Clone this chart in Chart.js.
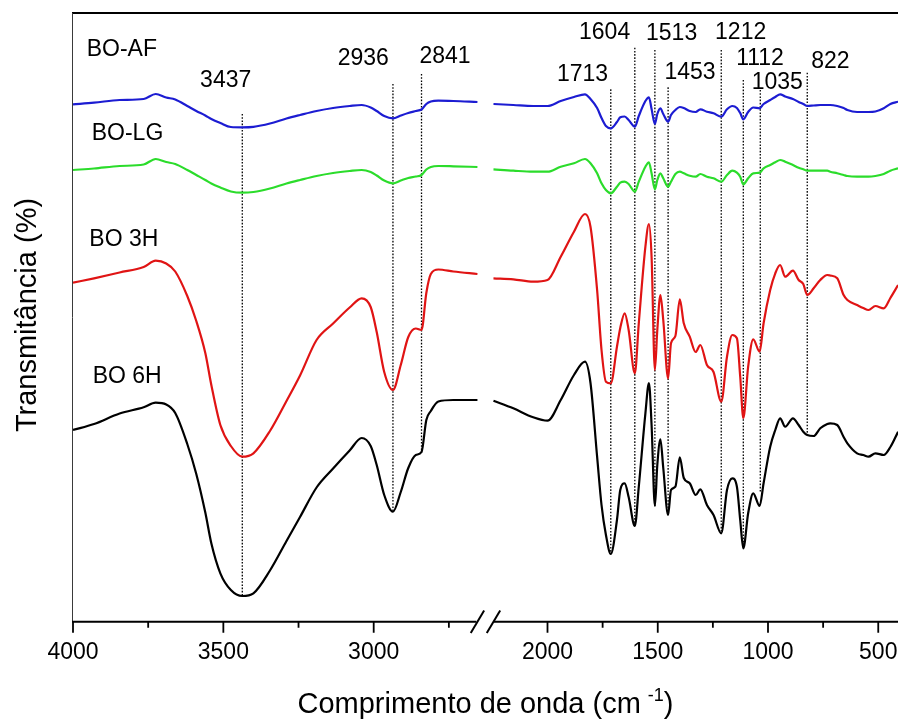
<!DOCTYPE html>
<html>
<head>
<meta charset="utf-8">
<script src="https://cdn.jsdelivr.net/npm/chart.js@4.4.1/dist/chart.umd.min.js"></script>
<style>
  html, body { margin: 0; padding: 0; background: #fff; }
  canvas { display: block; }
</style>
</head>
<body>
<canvas id="ftir" width="898" height="720"></canvas>
<script>
// Wavenumbers (cm-1) of the high-frequency window (4000 → ~2650)
const wnHigh = [4000, 3930, 3845, 3765, 3725, 3690, 3660, 3620, 3590, 3560, 3540, 3510, 3475, 3437, 3400, 3345, 3290, 3245, 3190, 3135, 3080, 3040, 3010, 2990, 2965, 2936, 2910, 2885, 2860, 2841, 2825, 2810, 2785, 2735, 2655];
// Wavenumbers (cm-1) of the fingerprint window (~2250 → 410)
const wnLow = [2245, 2155, 2065, 2000, 1940, 1880, 1830, 1805, 1775, 1755, 1735, 1713, 1685, 1670, 1650, 1632, 1604, 1586, 1556, 1540, 1528, 1513, 1502, 1488, 1475, 1453, 1440, 1420, 1400, 1382, 1355, 1328, 1307, 1277, 1247, 1212, 1186, 1162, 1141, 1126, 1112, 1090, 1067, 1038, 1020, 990, 967, 945, 922, 887, 861, 840, 822, 793, 763, 731, 718, 686, 657, 640, 596, 568, 544, 513, 475, 445, 410];

// Transmittance (offset, arbitrary units) for each sample
const afHigh = [516.7, 518.3, 521, 522, 527, 523.5, 521.5, 515, 510, 505.5, 502, 498, 494, 493.7, 494.2, 497.5, 502.5, 506, 510, 513, 515, 516, 513.5, 510, 505, 502.7, 505.5, 508, 510, 511.5, 517, 519.5, 520.3, 520, 519];
const afLow = [517, 516, 515, 515, 520, 524, 526.7, 522, 513, 503, 495, 492.7, 499, 503.7, 504.5, 501, 494.3, 505, 520, 523.7, 512, 497, 507, 512.7, 507, 499.3, 506, 511, 514, 513, 510, 509, 511.7, 509.3, 507.7, 504.3, 511.7, 515, 513, 508, 501.7, 509, 513.5, 512.7, 517, 521, 524, 526.7, 524.5, 522, 519, 517, 515, 515.5, 516, 516, 516, 515, 513, 511, 509, 509, 509, 509.5, 512.7, 517, 519.3];

const lgHigh = [451, 452.5, 455, 456.5, 462, 459, 457, 451, 446, 441, 437.5, 433.5, 429.5, 428.3, 429, 432.5, 437.5, 441, 445, 448, 450, 451, 449, 445.5, 440.5, 437.7, 440.5, 443, 444.5, 446, 451.5, 454, 455, 454.7, 454];
const lgLow = [451.7, 450.3, 449.3, 449.3, 454.3, 457.7, 462, 457.7, 447.7, 437.7, 431, 427.7, 434.3, 438.3, 439.3, 437, 429.3, 439.3, 454.3, 458.7, 447.7, 431.7, 441, 447.7, 442.7, 434.3, 439.3, 447, 449.3, 447.7, 445.3, 444.3, 447, 444.3, 442.7, 439.3, 446, 450.3, 448.3, 444.3, 436.7, 442.7, 447.7, 448.3, 452.7, 456, 458.7, 461, 459.3, 456, 453.3, 451.7, 450.3, 450.3, 450.3, 450.3, 449.3, 447.7, 446, 445, 444.3, 444.3, 444.3, 445, 447, 450.3, 452.7];

const h3High = [338.3, 342.7, 348.5, 354, 360.3, 357.5, 349.5, 325, 300, 268, 236, 196, 175, 164.3, 167.7, 190, 220, 245.5, 281, 297.5, 313.5, 322.7, 314, 289, 249, 231, 256, 284, 292.5, 291, 328, 347, 351.5, 349.5, 347];
const h3Low = [342.7, 341.7, 339.3, 341, 364.3, 389.3, 407, 394.3, 331, 271, 239.3, 237.7, 274.3, 293, 307.7, 291, 247.7, 297.7, 374.3, 397, 364.3, 251, 291, 326, 301, 242.7, 277.7, 285, 321.7, 297.7, 284.3, 269, 276, 256, 249, 219.3, 264.3, 286, 282.7, 244.3, 203, 254.3, 281.7, 269.3, 297.7, 331, 347.7, 356, 344.3, 350.3, 341, 337, 326, 332.7, 341, 346, 345.5, 342.7, 326, 321, 316, 313, 311, 315, 312.7, 323, 336];

const h6High = [191, 197, 207.5, 213.7, 218.3, 216.5, 208, 177, 147, 108.4, 77.7, 47.7, 31, 25, 27.7, 50.5, 80, 104, 133.5, 152.5, 170.5, 183, 175, 156, 126, 109.3, 129, 153, 166, 169, 201, 210, 219.5, 221, 221];
const h6Low = [220.3, 212.7, 203.7, 200.3, 221, 246, 259.3, 238, 164.3, 116, 86, 67, 101, 131, 137.7, 124, 95, 134.3, 207.7, 238, 196, 115, 156, 181.7, 153, 106, 131, 134.3, 163.7, 143, 137.7, 126, 131.7, 116, 106, 87.7, 131, 142.7, 134.3, 101, 72.7, 107.7, 127.7, 115, 137.7, 174.3, 191, 202.7, 194.3, 202.7, 196, 189.3, 186, 185, 192.7, 197, 197.7, 196, 184, 177.7, 167.7, 166, 164.3, 167.7, 166, 174, 189.3];

// Assigned bands: position and the vertical extent of each marker line
const peakWn = [3437, 2936, 2841, 1713, 1604, 1513, 1453, 1212, 1112, 1035, 822];
const peakTop = [507, 537, 547, 531.7, 573.3, 571, 533.7, 571, 541, 531, 548.3];
const peakBottom = [25, 109.3, 168, 67, 95, 115, 106, 87.7, 72.7, 128, 186];

// Axis tick labels
const majorTicks = [4000, 3500, 3000, 2000, 1500, 1000, 500];
const minorTicks = [3750, 3250, 2750, 1750, 1250, 750];

const seriesNames = ['BO-AF', 'BO-LG', 'BO 3H', 'BO 6H'];
const seriesColors = ['#1c1cd2', '#2bdc2b', '#e01414', '#000000'];

// ---- layout of annotations (pixel offsets / label heights) ----
const peakLabelLayout = [
  { dx: -16.6, v: 540.5 }, { dx: -29.7, v: 562 }, { dx: 23.5, v: 564.7 },
  { dx: -28.3, v: 546.5 }, { dx: -30.2, v: 588.5 }, { dx: 16.7, v: 587 },
  { dx: 21.9, v: 548.2 }, { dx: 19.4, v: 588.7 }, { dx: 16.7, v: 562 },
  { dx: 17, v: 538.2 }, { dx: 23.1, v: 559.3 }
];
const nameLayout = [
  { dx: 13.7, v: 571 }, { dx: 18.7, v: 487.7 }, { dx: 16.3, v: 381 }, { dx: 19.7, v: 244.3 }
];

// Broken wavenumber axis: two linear windows laid side by side
const BREAK_HIGH = 2655, BREAK_LOW = 2245;
function axisPos(w) {
  return w > 2450 ? (4000 - w) * 0.3007 : 474.5 + (2000 - w) * 0.2205;
}

function spectrum(hi, lo) {
  const pts = wnHigh.map((w, i) => ({ x: axisPos(w), y: hi[i] }));
  pts.push({ x: axisPos(2450), y: null });
  wnLow.forEach((w, i) => pts.push({ x: axisPos(w), y: lo[i] }));
  return pts;
}

const peakLinePts = [];
peakWn.forEach((w, i) => {
  peakLinePts.push({ x: axisPos(w), y: peakTop[i] }, { x: axisPos(w), y: peakBottom[i] }, { x: axisPos(w) + 0.01, y: null });
});

const FONT = '"Liberation Sans", Arial, Helvetica, sans-serif';
Chart.defaults.font.family = FONT;
Chart.defaults.color = '#000';

const decor = {
  id: 'decor',
  beforeDatasetsDraw(chart) {
    const { ctx, chartArea: a } = chart;
    ctx.save();
    ctx.strokeStyle = '#000';
    ctx.lineWidth = 2;
    ctx.beginPath();
    ctx.moveTo(a.left - 1, a.top);
    ctx.lineTo(a.right, a.top);
    ctx.stroke();
    ctx.strokeStyle = '#3a3a3a';
    ctx.lineWidth = 1;
    ctx.beginPath();
    ctx.moveTo(a.left - 0.5, a.top);
    ctx.lineTo(a.left - 0.5, a.bottom + 1);
    ctx.stroke();
    ctx.restore();
  },
  afterDatasetsDraw(chart) {
    const { ctx, chartArea: a, scales: { x, y } } = chart;
    const px = w => x.getPixelForValue(axisPos(w));
    const yAx = a.bottom + 0.7;
    ctx.save();
    // bottom axis, interrupted at the break
    ctx.strokeStyle = '#000';
    ctx.lineWidth = 2;
    const xb1 = px(BREAK_HIGH), xb2 = px(BREAK_LOW);
    ctx.beginPath();
    ctx.moveTo(a.left - 1, yAx); ctx.lineTo(xb1 - 1, yAx);
    ctx.moveTo(xb2, yAx); ctx.lineTo(a.right, yAx);
    ctx.stroke();
    // break marks
    [xb1, xb2].forEach(cx => {
      ctx.beginPath();
      ctx.moveTo(cx - 6.7, yAx + 11.3);
      ctx.lineTo(cx + 6.7, yAx - 11.3);
      ctx.stroke();
    });
    // tick marks
    ctx.lineWidth = 1.8;
    ctx.beginPath();
    majorTicks.forEach(w => { const p = px(w); ctx.moveTo(p, yAx); ctx.lineTo(p, yAx + 11); });
    minorTicks.forEach(w => { const p = px(w); ctx.moveTo(p, yAx); ctx.lineTo(p, yAx + 6); });
    ctx.stroke();

    // band labels
    ctx.fillStyle = '#000';
    ctx.font = '23px ' + FONT;
    ctx.textAlign = 'center';
    ctx.textBaseline = 'middle';
    peakWn.forEach((w, i) => {
      const L = peakLabelLayout[i];
      ctx.fillText(String(w), px(w) + L.dx, y.getPixelForValue(L.v));
    });
    // sample names
    ctx.textAlign = 'left';
    seriesNames.forEach((n, i) => {
      const L = nameLayout[i];
      ctx.fillText(n, a.left + L.dx, y.getPixelForValue(L.v));
    });

    // x-axis title with superscript
    const main = 'Comprimento de onda (cm', sup = '-1', close = ')';
    ctx.textBaseline = 'alphabetic';
    ctx.font = '29px ' + FONT;
    const wMain = ctx.measureText(main).width;
    const wClose = ctx.measureText(close).width;
    ctx.font = '18px ' + FONT;
    const wSup = ctx.measureText(sup).width;
    const gap = 7;
    const total = wMain + gap + wSup + wClose;
    let sx = (a.left + a.right) / 2 - total / 2;
    const base = 713;
    ctx.font = '29px ' + FONT;
    ctx.fillText(main, sx, base);
    sx += wMain + gap;
    ctx.font = '18px ' + FONT;
    ctx.fillText(sup, sx, base - 12);
    sx += wSup;
    ctx.font = '29px ' + FONT;
    ctx.fillText(close, sx, base);

    // y-axis title
    ctx.translate(36, (a.top + a.bottom) / 2 - 2);
    ctx.rotate(-Math.PI / 2);
    ctx.textAlign = 'center';
    ctx.fillText('Transmitância (%)', 0, 0);
    ctx.restore();
  }
};

const datasets = [
  ...[[afHigh, afLow], [lgHigh, lgLow], [h3High, h3Low], [h6High, h6Low]].map((s, i) => ({
    label: seriesNames[i],
    data: spectrum(s[0], s[1]),
    borderColor: seriesColors[i],
    borderWidth: 2.2,
    pointRadius: 0,
    cubicInterpolationMode: 'monotone',
    spanGaps: false,
    order: 1
  })),
  {
    label: 'bands',
    data: peakLinePts,
    borderColor: '#000',
    borderWidth: 1.3,
    borderDash: [1.6, 1.6],
    pointRadius: 0,
    tension: 0,
    spanGaps: false,
    order: 2
  }
];

new Chart(document.getElementById('ftir'), {
  type: 'line',
  data: { datasets },
  options: {
    responsive: false,
    animation: false,
    devicePixelRatio: 1,
    layout: { padding: { top: 13, left: 0, right: 0, bottom: 0 } },
    plugins: { legend: { display: false }, tooltip: { enabled: false } },
    scales: {
      x: {
        type: 'linear',
        min: 0,
        max: 825,
        grid: { display: true, drawOnChartArea: false, drawTicks: false },
        border: { display: false },
        afterBuildTicks: s => { s.ticks = majorTicks.map(w => ({ value: axisPos(w) })); },
        afterFit: s => { s.height = 99; s.paddingLeft = 0; s.paddingRight = 0; },
        ticks: {
          autoSkip: false,
          maxRotation: 0,
          padding: 18,
          font: { size: 23, family: FONT },
          color: '#000',
          callback: (v, i) => String(majorTicks[i])
        }
      },
      y: {
        type: 'linear',
        min: 0,
        max: 608,
        grid: { display: false },
        border: { display: false },
        ticks: { display: false },
        afterFit: s => { s.width = 73; }
      }
    }
  },
  plugins: [decor]
});
</script>
</body>
</html>
